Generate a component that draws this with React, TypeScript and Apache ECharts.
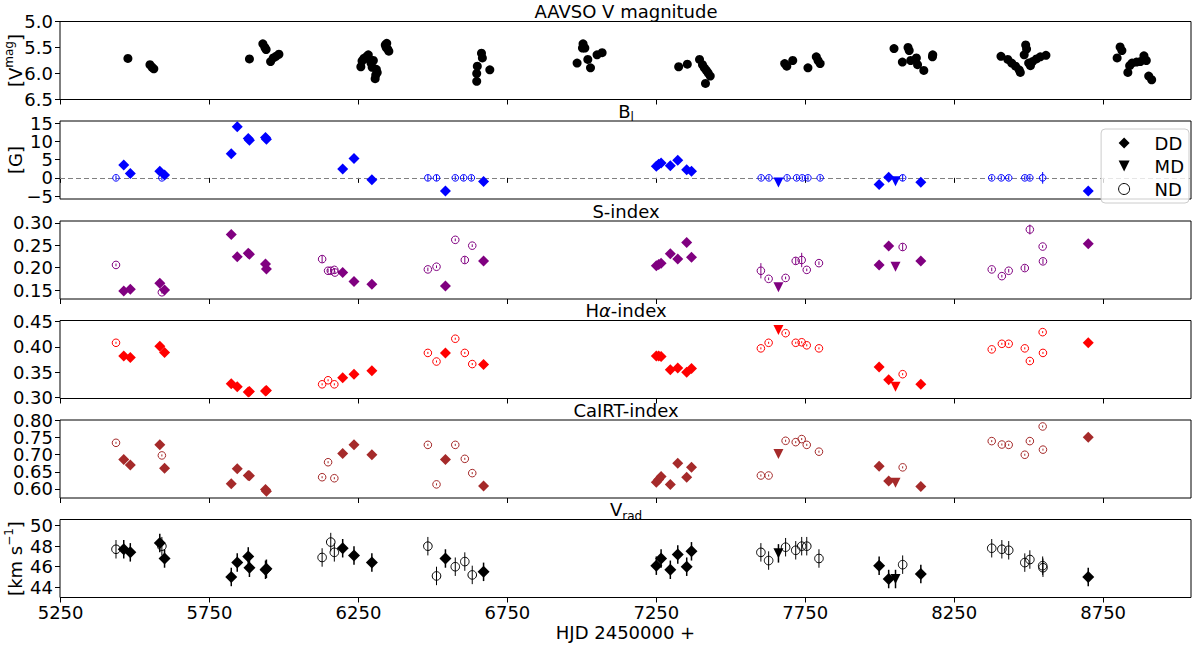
import React, { useEffect, useRef } from 'react';
import * as echarts from 'echarts';

const FONT = 'DejaVu Sans';
const X_MIN = 5248;
const X_MAX = 9045;
const xTicks = [5250, 5750, 6250, 6750, 7250, 7750, 8250, 8750];
const GRID_TOPS = [21.5, 121, 221, 320.5, 420, 519.5];
const GRID_H = 78;

// AAVSO V magnitude
const vmagHjd = [
  5476, 5550, 5557, 5563,
  5884, 5929, 5936, 5940, 5955, 5964, 5973, 5983,
  6258, 6262, 6268, 6276, 6283, 6287, 6292, 6296, 6300, 6310, 6313, 6308, 6306, 6340, 6343, 6348, 6352, 6345,
  6647, 6647, 6649, 6663, 6666, 6691,
  6984, 7004, 7002, 7010, 7020, 7029, 7051, 7068,
  7325, 7354, 7395, 7405, 7411, 7418, 7424, 7431, 7415,
  7681, 7688, 7708, 7759, 7787, 7793, 7800,
  8048, 8095, 8099, 8076, 8104, 8123, 8127, 8148, 8178, 8177,
  8407, 8430, 8443, 8456, 8468, 8472, 8485, 8490, 8493, 8500, 8506, 8513, 8526, 8539, 8558,
  8797, 8807, 8813, 8833, 8839, 8847, 8862, 8875, 8887, 8895, 8903, 8913,
];
const vmag = [
  5.71, 5.83, 5.88, 5.91,
  5.72, 5.43, 5.50, 5.54, 5.77, 5.70, 5.67, 5.63,
  5.87, 5.76, 5.71, 5.68, 5.64, 5.73, 5.80, 5.88, 5.75, 5.92, 5.98, 6.03, 6.10, 5.45, 5.50, 5.53, 5.57, 5.42,
  6.00, 6.15, 5.86, 5.61, 5.70, 5.93,
  5.80, 5.43, 5.51, 5.51, 5.73, 5.89, 5.64, 5.60,
  5.87, 5.82, 5.73, 5.83, 5.89, 5.94, 5.99, 6.05, 6.19,
  5.81, 5.86, 5.75, 5.89, 5.68, 5.75, 5.81,
  5.52, 5.50, 5.56, 5.78, 5.75, 5.70, 5.83, 5.94, 5.64, 5.68,
  5.67, 5.73, 5.80, 5.86, 5.93, 5.98, 5.64, 5.45, 5.53, 5.80, 5.85, 5.77, 5.72, 5.68, 5.65,
  5.70, 5.49, 5.56, 5.98, 5.85, 5.80, 5.78, 5.77, 5.66, 5.75, 6.05, 6.12,
];

// epochs shared by the spectroscopic panels
const ddHjd = [
  5462, 5484, 5583, 5599, 5823, 5843, 5880, 5884, 5938, 5941, 6197, 6235, 6295, 6542, 6670,
  7250, 7258, 7266, 7297, 7322, 7352, 7368, 7998, 8030, 8138, 8700,
];
const mdHjd = [7660, 8053];

// B_l [G]
const blDd = [3.5, 1.2, 1.8, 0.8, 6.6, 14.0, 10.8, 10.3, 11.1, 10.6, 2.4, 5.3, -0.5, -3.6, -1.0, 3.2, 3.7, 4.1, 3.3, 4.8, 2.2, 1.8, -1.8, 0.2, -1.2, -3.6];
const blMd = [-1.3, -0.9];
const blNdHjd = [5436, 5590, 6483, 6512, 6575, 6603, 6629, 7602, 7628, 7689, 7721, 7740, 7759, 7800, 8077, 8376, 8408, 8433, 8487, 8504, 8547];
const blNd = [0, 0, 0, 0, 0, 0, 0, 0, 0, 0, 0, 0, 0, 0, 0, 0, 0, 0, 0, 0, 0];
const blNdErr = [0.6, 0.6, 0.8, 0.8, 0.6, 0.7, 0.7, 0.6, 0.6, 0.6, 0.6, 0.6, 0.6, 0.6, 0.9, 0.6, 0.6, 0.6, 0.6, 0.6, 1.6];

// S-index
const sDd = [0.148, 0.152, 0.165, 0.150, 0.274, 0.224, 0.232, 0.230, 0.208, 0.197, 0.189, 0.169, 0.163, 0.159, 0.215, 0.204, 0.207, 0.210, 0.231, 0.219, 0.256, 0.223, 0.206, 0.248, 0.215, 0.253];
const sMd = [0.156, 0.202];
const sNdHjd = [5436, 5590, 6128, 6148, 6157, 6169, 6171, 6483, 6512, 6575, 6607, 6632, 7601, 7627, 7684, 7718, 7738, 7755, 7796, 8077, 8376, 8410, 8433, 8487, 8504, 8547, 8548];
const sNd = [0.206, 0.145, 0.219, 0.193, 0.193, 0.195, 0.189, 0.196, 0.202, 0.262, 0.217, 0.249, 0.193, 0.175, 0.177, 0.215, 0.217, 0.195, 0.210, 0.246, 0.196, 0.181, 0.193, 0.199, 0.285, 0.247, 0.214];
const sNdErr = [0.003, 0.003, 0.008, 0.004, 0.004, 0.004, 0.003, 0.004, 0.003, 0.003, 0.008, 0.003, 0.017, 0.003, 0.003, 0.008, 0.016, 0.003, 0.004, 0.008, 0.004, 0.003, 0.004, 0.006, 0.011, 0.003, 0.006];

// H-alpha index
const haDd = [0.382, 0.379, 0.401, 0.389, 0.327, 0.321, 0.311, 0.312, 0.313, 0.314, 0.339, 0.346, 0.353, 0.388, 0.365, 0.382, 0.382, 0.381, 0.355, 0.358, 0.350, 0.357, 0.360, 0.335, 0.326, 0.408];
const haMd = [0.433, 0.321];
const haNdHjd = [5436, 6128, 6148, 6169, 6483, 6512, 6575, 6607, 6632, 7601, 7627, 7684, 7718, 7738, 7755, 7796, 8077, 8376, 8410, 8433, 8487, 8504, 8547, 8548];
const haNd = [0.408, 0.326, 0.334, 0.326, 0.388, 0.371, 0.416, 0.388, 0.366, 0.397, 0.408, 0.427, 0.408, 0.409, 0.403, 0.397, 0.346, 0.395, 0.406, 0.406, 0.397, 0.372, 0.429, 0.388];
const HA_ND_ERR = 0.002;

// CaIRT index
const caDd = [0.686, 0.670, 0.729, 0.660, 0.615, 0.659, 0.639, 0.638, 0.598, 0.593, 0.704, 0.729, 0.700, 0.686, 0.608, 0.619, 0.627, 0.636, 0.613, 0.675, 0.634, 0.663, 0.666, 0.623, 0.607, 0.751];
const caMd = [0.702, 0.618];
const caNdHjd = [5436, 5590, 6128, 6148, 6169, 6483, 6512, 6575, 6607, 6632, 7601, 7627, 7684, 7718, 7738, 7755, 7796, 8077, 8376, 8410, 8433, 8487, 8504, 8547, 8548];
const caNd = [0.735, 0.698, 0.634, 0.678, 0.631, 0.729, 0.613, 0.729, 0.688, 0.646, 0.639, 0.639, 0.741, 0.737, 0.746, 0.729, 0.709, 0.663, 0.740, 0.730, 0.729, 0.700, 0.740, 0.783, 0.715];
const CA_ND_ERR = 0.003;

// V_rad [km/s]
const vDdHjd = [5462, 5484, 5583, 5599, 5823, 5843, 5880, 5884, 5938, 5941, 6197, 6235, 6295, 6542, 6670, 7250, 7266, 7297, 7322, 7352, 7368, 7998, 8030, 8138, 8700];
const vDd = [47.7, 47.4, 48.3, 46.8, 45.0, 46.4, 47.0, 45.9, 45.7, 45.8, 47.8, 47.1, 46.4, 46.8, 45.5, 46.1, 46.8, 45.7, 47.2, 46.0, 47.5, 46.1, 44.8, 45.3, 45.0];
const vMd = [47.3, 44.8];
const vNdHjd = [5436, 5590, 6128, 6157, 6169, 6483, 6512, 6575, 6607, 6632, 7601, 7627, 7684, 7718, 7738, 7755, 7796, 8077, 8376, 8410, 8433, 8487, 8504, 8547, 8548];
const vNd = [47.7, 48.0, 46.9, 48.4, 47.4, 48.0, 45.1, 46.0, 46.5, 45.2, 47.4, 46.6, 47.9, 47.6, 48.0, 48.0, 46.8, 46.2, 47.8, 47.7, 47.6, 46.4, 46.7, 46.1, 45.9];
const VRAD_ERR = 0.9;

const panelTitles = [
  '{b|AAVSO V magnitude}',
  '{b|B}{sub|l}',
  '{b|S-index}',
  '{b|H}{it|α}{b|-index}',
  '{b|CaIRT-index}',
  '{b|V}{sub|rad}',
];
const yNames = ['{bn|[V}{sup|mag}{bn|]}', '{bn|[G]}', '', '', '', '{bn|[km s}{sup|−1}{bn|]}'];
const yMins = [5.0, -5.8, 0.13, 0.298, 0.573, 43.0];
const yMaxs = [6.5, 15.6, 0.304, 0.452, 0.802, 50.6];
const yTicks = [
  [5.0, 5.5, 6.0, 6.5],
  [-5, 0, 5, 10, 15],
  [0.15, 0.2, 0.25, 0.3],
  [0.3, 0.35, 0.4, 0.45],
  [0.6, 0.7, 0.8],
  [44, 46, 48, 50],
];
// the CaIRT ticks are tightly packed: the in-between ones go on a twin axis
const caTicksBetween = [0.65, 0.75];
const yDecimals = [1, 0, 2, 2, 2, 0];
const panelColors = ['#000000', '#0000ff', '#800080', '#ff0000', '#a52a2a', '#000000'];

const MD_PATH = 'path://M0,0L10,0L5,10Z';

const pairs = (xs: number[], ys: number[]) => xs.map((x, i) => [x, ys[i]]);
const triples = (xs: number[], ys: number[], es: number[] | number) =>
  xs.map((x, i) => [x, ys[i], Array.isArray(es) ? es[i] : es]);

const fmt = (v: number, d: number) => {
  const s = Math.abs(v).toFixed(d);
  return v < 0 ? '\u2212' + s : s;
};

const ddSeries = (gi: number, ys: number[], xs: number[] = ddHjd, size = 11, extra: any = {}) => ({
  type: 'scatter',
  name: 'DD',
  xAxisIndex: gi,
  yAxisIndex: gi,
  data: pairs(xs, ys),
  symbol: 'diamond',
  symbolSize: size,
  itemStyle: { color: panelColors[gi], opacity: 1 },
  z: 4,
  ...extra,
});

const mdSeries = (gi: number, ys: number[]) => ({
  type: 'scatter',
  name: 'MD',
  xAxisIndex: gi,
  yAxisIndex: gi,
  data: pairs(mdHjd, ys),
  symbol: MD_PATH,
  symbolSize: [10, 10],
  itemStyle: { color: panelColors[gi], opacity: 1 },
  z: 4,
});

const ndSeries = (gi: number, data: number[][], r: number) => ({
  type: 'custom',
  name: 'ND',
  xAxisIndex: gi,
  yAxisIndex: gi,
  data,
  z: 3,
  renderItem: (_p: any, api: any) => {
    const x = api.value(0);
    const y = api.value(1);
    const e = api.value(2);
    const c = api.coord([x, y]);
    const t = api.coord([x, y + e]);
    const b = api.coord([x, y - e]);
    const color = panelColors[gi];
    return {
      type: 'group',
      children: [
        { type: 'line', shape: { x1: c[0], y1: t[1], x2: c[0], y2: b[1] }, style: { stroke: color, lineWidth: 1 } },
        { type: 'circle', shape: { cx: c[0], cy: c[1], r }, style: { fill: 'none', stroke: color, lineWidth: 1 } },
      ],
    };
  },
});

const errSeries = (gi: number, data: number[][]) => ({
  type: 'custom',
  xAxisIndex: gi,
  yAxisIndex: gi,
  data,
  z: 2,
  silent: true,
  renderItem: (_p: any, api: any) => {
    const x = api.value(0);
    const y = api.value(1);
    const e = api.value(2);
    const t = api.coord([x, y + e]);
    const b = api.coord([x, y - e]);
    return { type: 'line', shape: { x1: t[0], y1: t[1], x2: b[0], y2: b[1] }, style: { stroke: '#000', lineWidth: 1.5 } };
  },
});

const App: React.FC = () => {
  const chartRef = useRef<HTMLDivElement>(null);

  useEffect(() => {
    if (!chartRef.current) return;
    document.body.style.margin = '0';
    const chart = echarts.init(chartRef.current, null, { renderer: 'svg' });

    const nameRich = {
      bn: { fontSize: 18, fontFamily: FONT, color: '#000', lineHeight: 18, verticalAlign: 'bottom' },
      sup: { fontSize: 12, fontFamily: FONT, color: '#000', lineHeight: 30, verticalAlign: 'middle' },
    };
    const titleRich = {
      b: { fontSize: 18, fontFamily: FONT, fill: '#000', lineHeight: 18, verticalAlign: 'top' },
      it: { fontSize: 18, fontFamily: FONT, fill: '#000', lineHeight: 18, verticalAlign: 'top', fontStyle: 'italic' },
      sub: { fontSize: 12, fontFamily: FONT, fill: '#000', lineHeight: 30, verticalAlign: 'middle' },
    };

    const grids = GRID_TOPS.map((top) => ({
      left: 60,
      right: 9,
      top,
      height: GRID_H,
      show: true,
      borderColor: '#000',
      borderWidth: 1,
      backgroundColor: 'transparent',
      outerBoundsMode: 'none',
      containLabel: false,
    }));

    const xAxes = GRID_TOPS.map((_t, i) => ({
      type: 'value',
      gridIndex: i,
      min: X_MIN,
      max: X_MAX,
      axisLine: { show: false },
      axisTick: { show: true, customValues: xTicks, length: 5, lineStyle: { color: '#000' } },
      axisLabel: {
        show: i === 5,
        customValues: xTicks,
        fontSize: 18,
        fontFamily: FONT,
        color: '#000',
        margin: 6,
        hideOverlap: false,
        formatter: (v: number) => String(v),
      },
      splitLine: { show: false },
      name: i === 5 ? 'HJD 2450000 +' : '',
      nameLocation: 'middle',
      nameGap: 26,
      nameMoveOverlap: false,
      nameTextStyle: { fontSize: 18, fontFamily: FONT, color: '#000' },
    }));

    const yAxis = (gi: number, ticks: number[], name: string) => ({
      type: 'value',
      gridIndex: gi,
      position: 'left',
      offset: 0,
      min: yMins[gi],
      max: yMaxs[gi],
      inverse: gi === 0,
      axisLine: { show: false, onZero: false },
      axisTick: { show: true, customValues: ticks, length: 5, lineStyle: { color: '#000' } },
      axisLabel: {
        customValues: ticks,
        fontSize: 18,
        lineHeight: 15,
        fontFamily: FONT,
        color: '#000',
        margin: 7,
        hideOverlap: false,
        showMinLabel: true,
        showMaxLabel: true,
        formatter: (v: number) => fmt(v, yDecimals[gi]),
      },
      splitLine: { show: false },
      name,
      nameLocation: 'middle',
      nameRotate: 90,
      nameGap: 36,
      nameMoveOverlap: false,
      nameTextStyle: { fontSize: 18, fontFamily: FONT, color: '#000', rich: nameRich },
    });
    const yAxes = GRID_TOPS.map((_t, i) => yAxis(i, yTicks[i], yNames[i]));
    yAxes.push(yAxis(4, caTicksBetween, ''));

    const series: any[] = [
      {
        type: 'scatter',
        name: 'AAVSO',
        xAxisIndex: 0,
        yAxisIndex: 0,
        data: pairs(vmagHjd, vmag),
        symbol: 'circle',
        symbolSize: 9,
        itemStyle: { color: '#000', opacity: 1 },
      },
      ddSeries(1, blDd, ddHjd, 11, {
        markLine: {
          silent: true,
          symbol: ['none', 'none'],
          label: { show: false },
          lineStyle: { color: '#808080', type: [5, 3], width: 1 },
          data: [{ yAxis: 0 }],
          z: 1,
        },
      }),
      mdSeries(1, blMd),
      ndSeries(1, triples(blNdHjd, blNd, blNdErr), 3.3),
      ddSeries(2, sDd),
      mdSeries(2, sMd),
      ndSeries(2, triples(sNdHjd, sNd, sNdErr), 3.8),
      ddSeries(3, haDd),
      mdSeries(3, haMd),
      ndSeries(3, triples(haNdHjd, haNd, HA_ND_ERR), 3.8),
      ddSeries(4, caDd),
      mdSeries(4, caMd),
      ndSeries(4, triples(caNdHjd, caNd, CA_ND_ERR), 3.8),
      errSeries(5, triples(vDdHjd, vDd, VRAD_ERR)),
      errSeries(5, triples(mdHjd, vMd, VRAD_ERR)),
      ddSeries(5, vDd, vDdHjd, 12),
      mdSeries(5, vMd),
      ndSeries(5, triples(vNdHjd, vNd, VRAD_ERR), 4.3),
    ];

    const option = {
      animation: false,
      textStyle: { fontFamily: FONT },
      grid: grids,
      xAxis: xAxes,
      yAxis: yAxes,
      legend: {
        show: true,
        selectedMode: false,
        orient: 'vertical',
        right: 11,
        top: 129,
        itemWidth: 11,
        itemHeight: 11,
        itemGap: 5,
        padding: [5, 5, 5, 17],
        backgroundColor: 'rgba(255,255,255,0.8)',
        borderColor: '#cccccc',
        borderWidth: 1,
        borderRadius: 4,
        textStyle: { fontSize: 18, fontFamily: FONT, color: '#000', padding: [0, 0, 0, 20] },
        data: [
          { name: 'DD', icon: 'diamond', itemStyle: { color: '#000' } },
          { name: 'MD', icon: MD_PATH, itemStyle: { color: '#000' } },
          { name: 'ND', icon: 'circle', itemStyle: { color: '#fff', borderColor: '#000', borderWidth: 1 } },
        ],
      },
      graphic: panelTitles.map((t, i) => ({
        type: 'text',
        x: 626,
        y: GRID_TOPS[i] - 19,
        silent: true,
        style: { text: t, rich: titleRich, align: 'center', verticalAlign: 'top', fill: '#000', fontSize: 18, fontFamily: FONT },
      })),
      series,
    };

    chart.setOption(option);
    return () => chart.dispose();
  }, []);

  return <div ref={chartRef} style={{ width: 1200, height: 646 }} />;
};

export default App;
